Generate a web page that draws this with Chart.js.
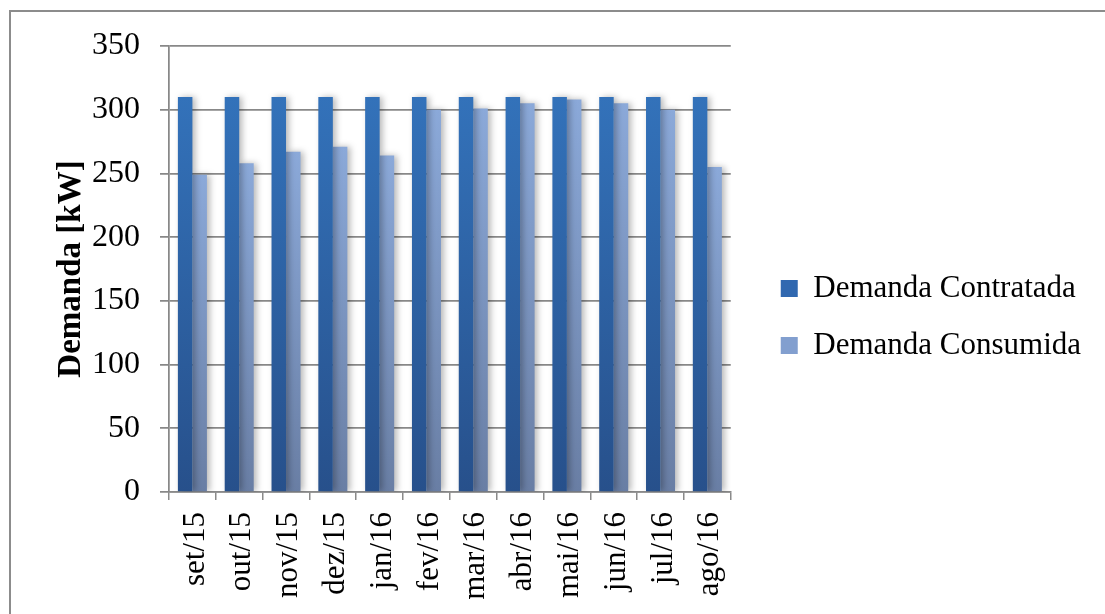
<!DOCTYPE html>
<html>
<head>
<meta charset="utf-8">
<script src="https://cdn.jsdelivr.net/npm/chart.js@4"></script>
<style>
  html, body { margin: 0; padding: 0; background: #fff; overflow: hidden; }
  #wrap { position: relative; width: 1105px; height: 614px; }
  #frame {
    position: absolute; left: 9px; top: 10px; width: 1200px; height: 700px;
    border: 2px solid #8c8c8c; box-sizing: border-box;
  }
  #demandaChart { position: absolute; left: 0; top: 0; }
</style>
</head>
<body>
<div id="wrap">
  <div id="frame"></div>
  <canvas id="demandaChart" width="1105" height="614"></canvas>
</div>
<script>
const meses = ["set/15", "out/15", "nov/15", "dez/15", "jan/16", "fev/16",
               "mar/16", "abr/16", "mai/16", "jun/16", "jul/16", "ago/16"];
const contratada = [310, 310, 310, 310, 310, 310, 310, 310, 310, 310, 310, 310];
const consumida = [249, 258, 267, 271, 264, 300, 301, 305, 308, 305, 300, 255];
const yTicks = [0, 50, 100, 150, 200, 250, 300, 350];

const serif = "'Liberation Serif', 'Times New Roman', serif";

// gradiente vertical por barra (topo -> base)
function barGradient(top, bottom) {
  return (c) => {
    const chart = c.chart;
    if (!chart.chartArea || c.raw == null) return top;
    const y = chart.scales.y;
    const y0 = y.getPixelForValue(c.raw);
    const y1 = y.getPixelForValue(0);
    if (!isFinite(y0) || !isFinite(y1) || y0 === y1) return top;
    const g = chart.ctx.createLinearGradient(0, y0, 0, y1);
    g.addColorStop(0, top);
    g.addColorStop(1, bottom);
    return g;
  };
}

// sombra suave à direita das barras
const barShadow = {
  id: "barShadow",
  beforeDatasetsDraw(chart) {
    const ctx = chart.ctx;
    ctx.save();
    ctx.shadowColor = "rgba(0,0,0,0.28)";
    ctx.shadowBlur = 6;
    ctx.shadowOffsetX = 3;
    ctx.shadowOffsetY = 0;
  },
  afterDatasetsDraw(chart) {
    chart.ctx.restore();
  }
};

// afasta a legenda do gráfico e sobe um pouco
const legendShift = {
  id: "legendShift",
  afterLayout(chart) {
    const lg = chart.legend;
    if (!lg) return;
    const dx = 24, dy = -13;
    lg.left += dx;
    lg.right += dx;
    lg.top += dy;
    lg.bottom += dy;
    if (lg.legendHitBoxes) lg.legendHitBoxes.forEach(h => { h.left += dx; h.top += dy; });
  }
};

const ctx = document.getElementById("demandaChart");

new Chart(ctx, {
  type: "bar",
  data: {
    labels: meses,
    datasets: [
      {
        label: "Demanda Contratada",
        data: contratada,
        backgroundColor: barGradient("#3372BA", "#27508B"),
        borderWidth: 0,
        categoryPercentage: 0.62,
        barPercentage: 1.0,
      },
      {
        label: "Demanda Consumida",
        data: consumida,
        backgroundColor: barGradient("#8BA9D9", "#697EA4"),
        borderWidth: 0,
        categoryPercentage: 0.62,
        barPercentage: 1.0,
      },
    ],
  },
  options: {
    responsive: false,
    animation: false,
    devicePixelRatio: 1,
    layout: {
      padding: { left: 0, top: 46, right: 38, bottom: 0 },
    },
    plugins: {
      legend: {
        position: "right",
        maxWidth: 400,
        labels: {
          font: { family: serif, size: 31 },
          color: "#000",
          boxWidth: 17,
          boxHeight: 17,
          padding: 26,
          generateLabels(chart) {
            const cols = ["#3068B0", "#829FCF"];
            return chart.data.datasets.map((ds, i) => ({
              text: ds.label,
              fillStyle: cols[i],
              strokeStyle: "rgba(0,0,0,0)",
              lineWidth: 0,
              fontColor: "#000",
              hidden: false,
              datasetIndex: i,
            }));
          },
        },
      },
      tooltip: { enabled: false },
    },
    scales: {
      x: {
        grid: {
          display: true,
          drawOnChartArea: false,
          drawTicks: true,
          tickLength: 8,
          color: "#8a8a8a",
          lineWidth: 1.5,
          offset: true,
        },
        border: { display: true, color: "#8a8a8a", width: 1.5 },
        ticks: {
          font: { family: serif, size: 31 },
          color: "#000",
          minRotation: 90,
          maxRotation: 90,
          padding: 12,
          labelOffset: 3,
          autoSkip: false,
        },
        afterFit(s) { s.height = 614 - 492; },
      },
      y: {
        min: 0,
        max: 350,
        afterBuildTicks(s) { s.ticks = yTicks.map(v => ({ value: v })); },
        grid: {
          color: "#888888",
          lineWidth: 1.75,
          tickLength: 9,
        },
        border: { display: true, color: "#888888", width: 1.75 },
        ticks: {
          font: { family: serif, size: 32 },
          color: "#000",
          padding: 20,
        },
        title: {
          display: true,
          text: "Demanda [kW]",
          font: { family: serif, size: 33, weight: "bold" },
          color: "#000",
          padding: { top: 52, bottom: 0 },
        },
        afterFit(s) { s.width = 169; },
      },
    },
  },
  plugins: [barShadow, legendShift],
});
</script>
</body>
</html>
